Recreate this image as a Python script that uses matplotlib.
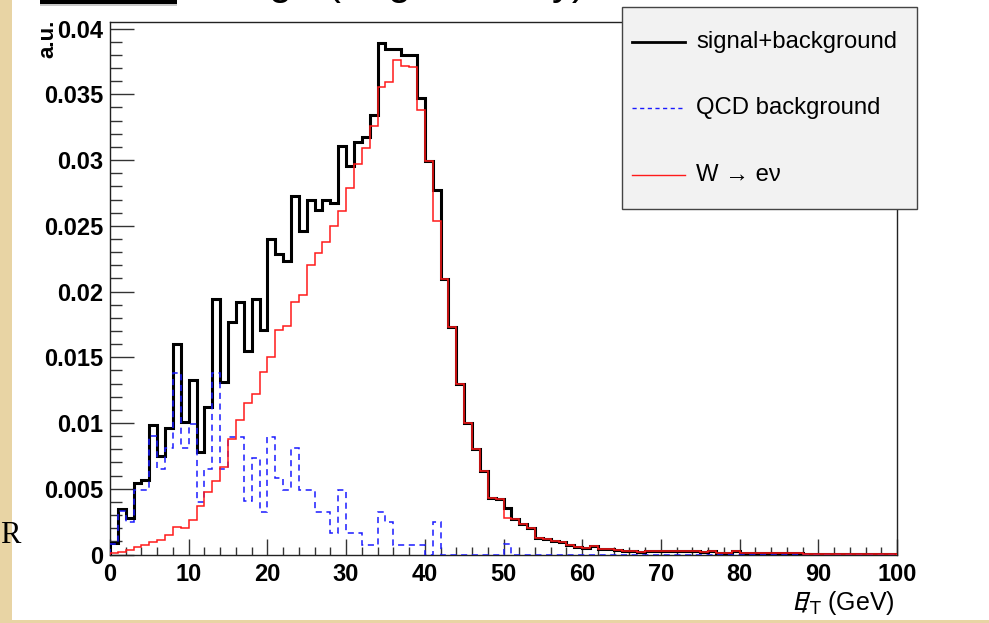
import numpy as np
import matplotlib
matplotlib.use("Agg")
import matplotlib.pyplot as plt
from matplotlib.patches import Rectangle
from matplotlib.lines import Line2D

# Histogram contents, 100 bins of 1 GeV from 0 to 100
bin_edges = np.arange(0, 101, 1)

signal_plus_bkg = [
    0.0009, 0.00345, 0.0028, 0.00546, 0.00566, 0.00982, 0.0075, 0.00964, 0.0160, 0.0101,
    0.01325, 0.00777, 0.01122, 0.0194, 0.01315, 0.0177, 0.0192, 0.0155, 0.0194, 0.0171,
    0.0240, 0.02284, 0.0223, 0.0273, 0.0246, 0.02697, 0.0262, 0.02697, 0.0267, 0.03106,
    0.02951, 0.03137, 0.03176, 0.03345, 0.03888, 0.03844, 0.03844, 0.0380, 0.0380, 0.03474,
    0.02995, 0.02775, 0.02097, 0.01729, 0.01294, 0.01002, 0.00802, 0.00634, 0.00428, 0.00422,
    0.00354, 0.00268, 0.0023, 0.0020, 0.00125, 0.00116, 0.00105, 0.00094, 0.00074, 0.0006,
    0.00048, 0.00067, 0.00042, 0.00042, 0.00034, 0.00029, 0.00027, 0.00017, 0.00029, 0.00029,
    0.00023, 0.00023, 0.00023, 0.00023, 0.00023, 0.00016, 0.00023, 0.00013, 0.00008, 0.00023,
    0.00008, 0.00008, 0.00008, 0.00013, 0.00008, 0.00008, 0.00008, 0.00013, 0.00004, 0.00003,
    0.00005, 0.00002, 0.00004, 0.00003, 0.00002, 0.00003, 0.00002, 0.00003, 0.00002, 0.00002,
]

qcd_background = [
    0.0008, 0.0033, 0.00249, 0.00487, 0.00487, 0.0090, 0.00652, 0.0081, 0.01383, 0.0081,
    0.00995, 0.00401, 0.00652, 0.01383, 0.00652, 0.00896, 0.00896, 0.00406, 0.00731, 0.00325,
    0.00896, 0.00579, 0.0049, 0.00807, 0.0049, 0.0049, 0.00325, 0.00325, 0.00162, 0.0049,
    0.00162, 0.00162, 0.00076, 0.00076, 0.00325, 0.00249, 0.00076, 0.00076, 0.00076, 0.00076,
    0.0, 0.00245, 0.0, 0.0, 0.0, 0.0, 0.0, 0.0, 0.0, 0.0,
    0.00078, 0.0, 0.0, 0.0, 0.0, 0.0, 0.0, 0.0, 0.0, 0.0,
    0.0, 0.0, 0.0, 0.0, 0.0, 0.0, 0.0, 0.0, 0.0, 0.0,
    0.0, 0.0, 0.0, 0.0, 0.0, 0.0, 0.0, 0.0, 0.0, 0.0,
    0.0, 0.0, 0.0, 0.0, 0.0, 0.0, 0.0, 0.0, 0.0, 0.0,
    0.0, 0.0, 0.0, 0.0, 0.0, 0.0, 0.0, 0.0, 0.0, 0.0,
]

w_to_enu = [
    0.00008, 0.00018, 0.00036, 0.00056, 0.00076, 0.00094, 0.00109, 0.00152, 0.00208, 0.00198,
    0.00266, 0.00368, 0.00477, 0.00558, 0.00665, 0.00879, 0.01025, 0.01151, 0.01218, 0.01385,
    0.01505, 0.01708, 0.01739, 0.01922, 0.0197, 0.0220, 0.0229, 0.02376, 0.02498, 0.02615,
    0.02788, 0.02969, 0.03093, 0.03262, 0.03552, 0.0359, 0.03761, 0.03715, 0.03707, 0.03383,
    0.0299, 0.02537, 0.02097, 0.01729, 0.01294, 0.01002, 0.00802, 0.00634, 0.00428, 0.00422,
    0.00275, 0.00268, 0.0023, 0.0020, 0.00125, 0.00116, 0.00105, 0.00094, 0.00074, 0.0006,
    0.00048, 0.00067, 0.00042, 0.00042, 0.00034, 0.00029, 0.00027, 0.00017, 0.00029, 0.00029,
    0.00023, 0.00023, 0.00023, 0.00023, 0.00023, 0.00016, 0.00023, 0.00013, 0.00008, 0.00023,
    0.00008, 0.00008, 0.00008, 0.00013, 0.00008, 0.00008, 0.00008, 0.00013, 0.00004, 0.00003,
    0.00005, 0.00002, 0.00004, 0.00003, 0.00002, 0.00003, 0.00002, 0.00003, 0.00002, 0.00002,
]

y_ticks = [0, 0.005, 0.01, 0.015, 0.02, 0.025, 0.03, 0.035, 0.04]
y_tick_labels = ["0", "0.005", "0.01", "0.015", "0.02", "0.025", "0.03", "0.035", "0.04"]
x_ticks = [0, 10, 20, 30, 40, 50, 60, 70, 80, 90, 100]
x_tick_labels = ["0", "10", "20", "30", "40", "50", "60", "70", "80", "90", "100"]

legend_labels = ["signal+background", "QCD background", "W \u2192 e\u03bd"]

W, H = 989, 623
plt.rcParams['font.family'] = ['Liberation Sans', 'DejaVu Sans']


def fx(x):
    return x / W


def fy(y):
    return 1 - y / H


fig = plt.figure(figsize=(W / 100, H / 100), dpi=100, facecolor='#e8d4a4')

# white slide area and a bit of the slide decoration (behind the axes)
fig.patches.append(Rectangle((fx(12), fy(620)), fx(W - 12), 620 / H,
                             transform=fig.transFigure, facecolor='white',
                             edgecolor='none', zorder=-3))
fig.patches.append(Rectangle((fx(40), fy(6)), fx(137), 3 / H, transform=fig.transFigure,
                             facecolor='#c8c8c8', edgecolor='none', zorder=-2))
fig.patches.append(Rectangle((fx(40), fy(3.5)), fx(137), 3.5 / H, transform=fig.transFigure,
                             facecolor='black', edgecolor='none', zorder=-1))
# bottoms of the slide title, cut by the top edge
for ch, xpos in [("g", 268), ("(", 326), ("g", 387), ("y)", 552)]:
    fig.text(fx(xpos), fy(-6), ch, fontsize=30, ha='left', va='baseline', color='black')
fig.text(fx(0), fy(543), "R", fontsize=22, family='Liberation Serif',
         ha='left', va='baseline', color='black')

# main axes
ax = fig.add_axes([fx(110), fy(554.5), fx(897 - 110), (554.5 - 22) / H])
ax.set_facecolor('white')
ax.set_xlim(0, 100)
ax.set_ylim(0, 0.0405)

ax.stairs(signal_plus_bkg, bin_edges, baseline=0, color='black', linewidth=2.2, zorder=3)
ax.stairs(qcd_background, bin_edges, baseline=0, color='#1a1aff', linewidth=1.1,
          linestyle=(0, (4, 3)), zorder=4)
ax.stairs(w_to_enu, bin_edges, baseline=0, color='#ff1a1a', linewidth=1.1, zorder=5)

for side in ['left', 'right', 'top', 'bottom']:
    ax.spines[side].set_linewidth(1.0)
    ax.spines[side].set_color('#222222')

ax.set_yticks(y_ticks)
ax.set_yticklabels(y_tick_labels)
ax.set_yticks(np.arange(0, 0.0405, 0.001), minor=True)
ax.set_xticks(x_ticks)
ax.set_xticklabels(x_tick_labels)
ax.set_xticks(np.arange(0, 101, 2), minor=True)

ax.tick_params(axis='y', which='major', direction='in', length=17, width=1,
               labelsize=17, pad=5, color='#333333')
ax.tick_params(axis='y', which='minor', direction='in', length=8.5, width=1, color='#333333')
ax.tick_params(axis='x', which='major', direction='in', length=11.5, width=1,
               labelsize=17, pad=6, color='#333333')
ax.tick_params(axis='x', which='minor', direction='in', length=6, width=1, color='#333333')
for lbl in ax.get_xticklabels() + ax.get_yticklabels():
    lbl.set_fontweight('bold')

fig.text(fx(48), fy(20), "a.u.", rotation=90, ha='center', va='top',
         fontsize=16, fontweight='bold')
fig.text(fx(895), fy(603), r"$/\!\!\!\!E_{\mathrm{T}}$ (GeV)", ha='right', va='center',
         fontsize=18)

# legend box
fig.patches.append(Rectangle((fx(622), fy(209)), fx(917 - 622), (209 - 7) / H,
                             transform=fig.transFigure, facecolor='#f2f2f2',
                             edgecolor='#444444', linewidth=1.0, zorder=10))
legend_styles = [
    dict(color='black', linewidth=2.0, linestyle='-'),
    dict(color='#1a1aff', linewidth=1.0, linestyle=(0, (3, 2.5))),
    dict(color='#ff1a1a', linewidth=1.0, linestyle='-'),
]
legend_rows = [42, 108, 175]
for label, style, yrow in zip(legend_labels, legend_styles, legend_rows):
    fig.add_artist(Line2D([fx(632), fx(685)], [fy(yrow), fy(yrow)],
                          transform=fig.transFigure, zorder=11, **style))
    fig.text(fx(696), fy(yrow), label, ha='left', va='center', fontsize=17.2, zorder=11)

fig.savefig("out.png", dpi=100, facecolor=fig.get_facecolor())
